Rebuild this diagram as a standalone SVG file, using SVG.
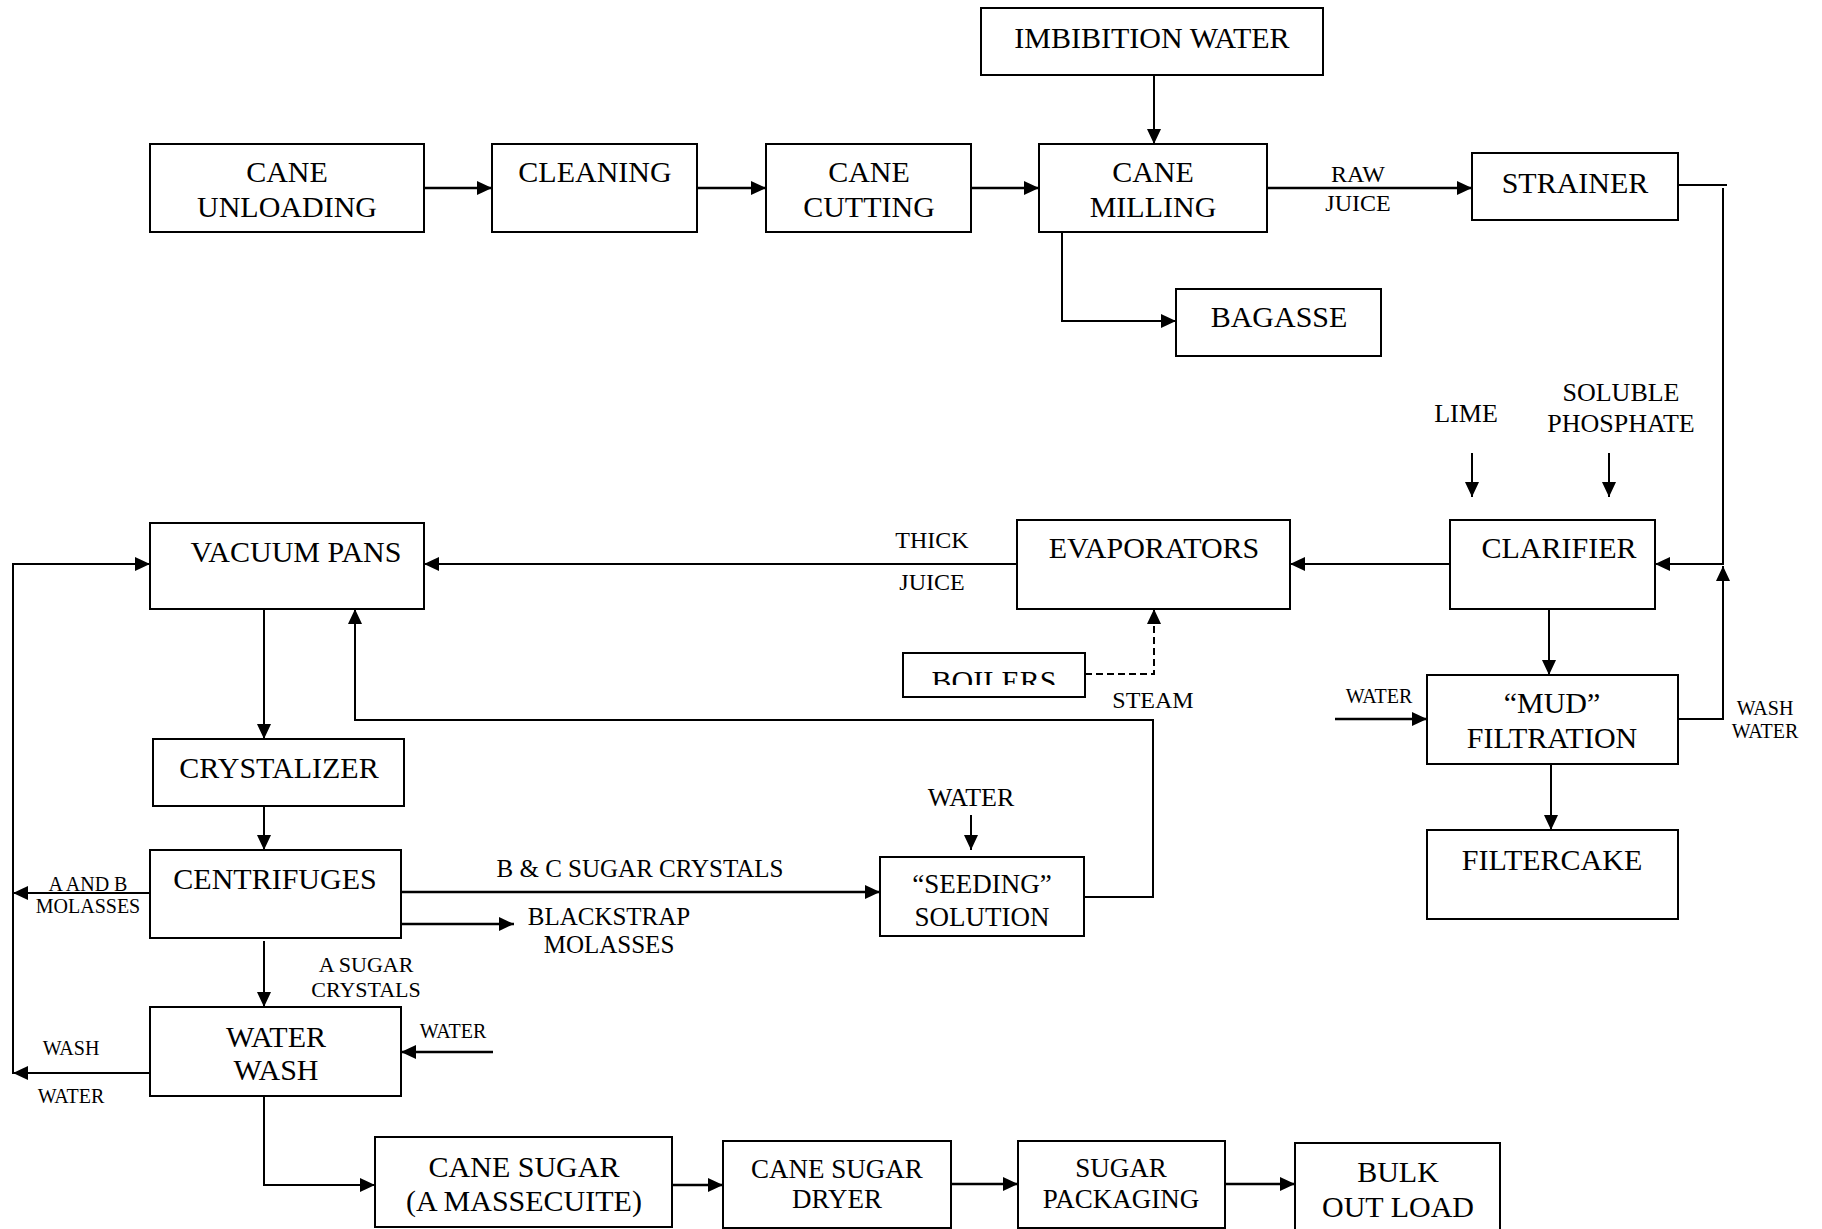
<svg xmlns="http://www.w3.org/2000/svg" width="1822" height="1229" viewBox="0 0 1822 1229">
<style>
.box{fill:#fff;stroke:#000;stroke-width:2}
.t{font-family:"Liberation Serif","Times New Roman",serif;fill:#000;text-anchor:middle}
.n{font-size:30px}
.m{font-size:27px}
.s{font-size:24px}
.xs{font-size:20px}
.c{fill:none;stroke:#000;stroke-width:2}
.k{stroke-width:2.6}
.d{stroke-dasharray:7 4}
</style>
<defs>
<marker id="ah" markerUnits="userSpaceOnUse" markerWidth="16" markerHeight="14" refX="15" refY="7" orient="auto">
<path d="M0,0 L15,7 L0,14 z" fill="#000"/>
</marker>
<clipPath id="bclip"><rect x="903" y="653" width="182" height="32"/></clipPath>
</defs>
<rect width="1822" height="1229" fill="#fff"/>

<g id="connectors">
<path class="c k" d="M424,188 H492" marker-end="url(#ah)"/>
<path class="c k" d="M697,188 H766" marker-end="url(#ah)"/>
<path class="c k" d="M971,188 H1039" marker-end="url(#ah)"/>
<path class="c" d="M1154,75 V144" marker-end="url(#ah)"/>
<path class="c k" d="M1267,188 H1472" marker-end="url(#ah)"/>
<path class="c" d="M1062,232 V321 H1176" marker-end="url(#ah)"/>
<path class="c" d="M1678,185 H1727"/>
<path class="c" d="M1723,188 V564 H1655" marker-end="url(#ah)"/>
<path class="c" d="M1678,719 H1723 V566" marker-end="url(#ah)"/>
<path class="c" d="M1450,564 H1290" marker-end="url(#ah)"/>
<path class="c" d="M1472,453 V497" marker-end="url(#ah)"/>
<path class="c" d="M1609,453 V497" marker-end="url(#ah)"/>
<path class="c" d="M1549,609 V675" marker-end="url(#ah)"/>
<path class="c k" d="M1335,719 H1427" marker-end="url(#ah)"/>
<path class="c" d="M1551,764 V830" marker-end="url(#ah)"/>
<path class="c" d="M1017,564 H424" marker-end="url(#ah)"/>
<path class="c d" d="M1085,674 H1154 V609" marker-end="url(#ah)"/>
<path class="c" d="M264,609 V739" marker-end="url(#ah)"/>
<path class="c" d="M264,806 V850" marker-end="url(#ah)"/>
<path class="c k" d="M401,892 H880" marker-end="url(#ah)"/>
<path class="c k" d="M401,924 H514" marker-end="url(#ah)"/>
<path class="c" d="M150,893 H13" marker-end="url(#ah)"/>
<path class="c" d="M13,1074 V564 H150" marker-end="url(#ah)"/>
<path class="c" d="M1084,897 H1153 V720 H355 V609" marker-end="url(#ah)"/>
<path class="c" d="M971,815 V850" marker-end="url(#ah)"/>
<path class="c" d="M264,941 V1007" marker-end="url(#ah)"/>
<path class="c k" d="M493,1052 H401" marker-end="url(#ah)"/>
<path class="c" d="M150,1073 H13" marker-end="url(#ah)"/>
<path class="c" d="M264,1096 V1185 H375" marker-end="url(#ah)"/>
<path class="c k" d="M672,1185 H723" marker-end="url(#ah)"/>
<path class="c k" d="M951,1184 H1018" marker-end="url(#ah)"/>
<path class="c k" d="M1225,1184 H1295" marker-end="url(#ah)"/>
</g>

<g id="imbibition"><rect class="box" x="981" y="8" width="342" height="67"/><text class="t n" x="1152" y="48">IMBIBITION WATER</text></g>
<g id="cane_unloading"><rect class="box" x="150" y="144" width="274" height="88"/><text class="t n" x="287" y="182">CANE</text><text class="t n" x="287" y="217">UNLOADING</text></g>
<g id="cleaning"><rect class="box" x="492" y="144" width="205" height="88"/><text class="t n" x="595" y="182">CLEANING</text></g>
<g id="cane_cutting"><rect class="box" x="766" y="144" width="205" height="88"/><text class="t n" x="869" y="182">CANE</text><text class="t n" x="869" y="217">CUTTING</text></g>
<g id="cane_milling"><rect class="box" x="1039" y="144" width="228" height="88"/><text class="t n" x="1153" y="182">CANE</text><text class="t n" x="1153" y="217">MILLING</text></g>
<g id="strainer"><rect class="box" x="1472" y="153" width="206" height="67"/><text class="t n" x="1575" y="193">STRAINER</text></g>
<g id="bagasse"><rect class="box" x="1176" y="289" width="205" height="67"/><text class="t n" x="1279" y="327">BAGASSE</text></g>
<g id="vacuum_pans"><rect class="box" x="150" y="523" width="274" height="86"/><text class="t n" x="296" y="562">VACUUM PANS</text></g>
<g id="evaporators"><rect class="box" x="1017" y="520" width="273" height="89"/><text class="t n" x="1154" y="558">EVAPORATORS</text></g>
<g id="clarifier"><rect class="box" x="1450" y="520" width="205" height="89"/><text class="t n" x="1559" y="558">CLARIFIER</text></g>
<g id="boilers"><rect class="box" x="903" y="653" width="182" height="44"/><text class="t n" x="994" y="691" clip-path="url(#bclip)">BOILERS</text></g>
<g id="mud_filtration"><rect class="box" x="1427" y="675" width="251" height="89"/><text class="t n" x="1552" y="713">“MUD”</text><text class="t n" x="1552" y="748">FILTRATION</text></g>
<g id="filtercake"><rect class="box" x="1427" y="830" width="251" height="89"/><text class="t n" x="1552" y="870">FILTERCAKE</text></g>
<g id="crystalizer"><rect class="box" x="153" y="739" width="251" height="67"/><text class="t n" x="279" y="778">CRYSTALIZER</text></g>
<g id="seeding"><rect class="box" x="880" y="857" width="204" height="79"/><text class="t m" x="982" y="893">“SEEDING”</text><text class="t m" x="982" y="926">SOLUTION</text></g>
<g id="centrifuges"><rect class="box" x="150" y="850" width="251" height="88"/><text class="t n" x="275" y="889">CENTRIFUGES</text></g>
<g id="water_wash"><rect class="box" x="150" y="1007" width="251" height="89"/><text class="t n" x="276" y="1047">WATER</text><text class="t n" x="276" y="1080">WASH</text></g>
<g id="cane_sugar"><rect class="box" x="375" y="1137" width="297" height="90"/><text class="t n" x="524" y="1177">CANE SUGAR</text><text class="t n" x="524" y="1211">(A MASSECUITE)</text></g>
<g id="dryer"><rect class="box" x="723" y="1141" width="228" height="87"/><text class="t m" x="837" y="1178">CANE SUGAR</text><text class="t m" x="837" y="1208">DRYER</text></g>
<g id="packaging"><rect class="box" x="1018" y="1141" width="207" height="87"/><text class="t m" x="1121" y="1177">SUGAR</text><text class="t m" x="1121" y="1208">PACKAGING</text></g>
<g id="bulk"><rect class="box" x="1295" y="1143" width="205" height="92"/><text class="t n" x="1398" y="1182">BULK</text><text class="t n" x="1398" y="1217">OUT LOAD</text></g>

<g id="labels">
<text class="t s" x="1358" y="182">RAW</text>
<text class="t s" x="1358" y="211">JUICE</text>
<text class="t" style="font-size:26px" x="1466" y="422">LIME</text>
<text class="t" style="font-size:26px" x="1621" y="401">SOLUBLE</text>
<text class="t" style="font-size:26px" x="1621" y="432">PHOSPHATE</text>
<text class="t s" x="932" y="548">THICK</text>
<text class="t s" x="932" y="590">JUICE</text>
<text class="t s" x="1153" y="708">STEAM</text>
<text class="t xs" x="1379" y="703">WATER</text>
<text class="t xs" x="1765" y="715">WASH</text>
<text class="t xs" x="1765" y="738">WATER</text>
<text class="t" style="font-size:26px" x="971" y="806">WATER</text>
<text class="t" style="font-size:25px" x="640" y="877">B &amp; C SUGAR CRYSTALS</text>
<text class="t" style="font-size:25px" x="609" y="925">BLACKSTRAP</text>
<text class="t" style="font-size:25px" x="609" y="953">MOLASSES</text>
<text class="t xs" x="88" y="891">A AND B</text>
<text class="t xs" x="88" y="913">MOLASSES</text>
<text class="t" style="font-size:22px" x="366" y="972">A SUGAR</text>
<text class="t" style="font-size:22px" x="366" y="997">CRYSTALS</text>
<text class="t xs" x="453" y="1038">WATER</text>
<text class="t xs" x="71" y="1055">WASH</text>
<text class="t xs" x="71" y="1103">WATER</text>
</g>
</svg>
